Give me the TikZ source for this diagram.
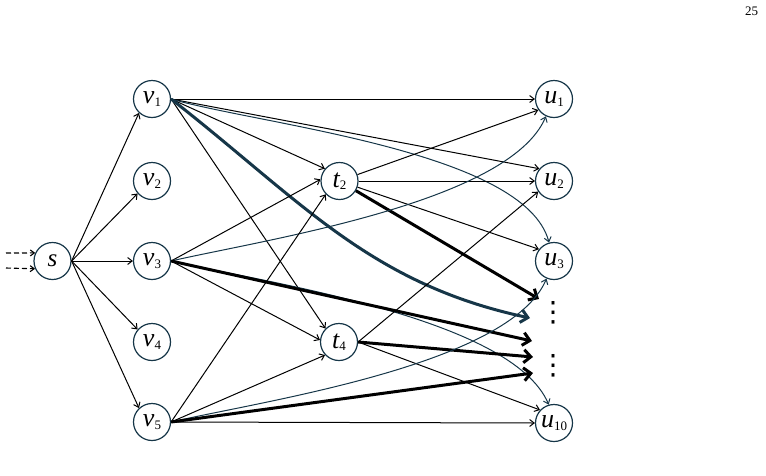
\documentclass[tikz,border=0pt]{standalone}
\usepackage{fontspec}
\setmainfont{Liberation Serif}
\newfontfamily\dejavu{DejaVu Sans}
\usetikzlibrary{arrows.meta}
\definecolor{navy}{RGB}{22,54,72}
\newcommand\lab[2]{{\fontsize{26}{26}\selectfont\itshape #1}\raisebox{-2.5pt}{\fontsize{13}{13}\selectfont #2}}
\begin{document}
\begin{tikzpicture}[x=1pt,y=1pt,
  nd/.style={circle,draw=navy,line width=1.2pt,minimum size=37pt,inner sep=0pt},
  ar/.style={line width=1pt,-{Straight Barb[length=4.5pt,width=7pt]}},
  arb/.style={ar,draw=navy},
  thk/.style={line width=3pt,-{Straight Barb[length=7pt,width=13pt]}},
  thkb/.style={thk,draw=navy},
  dsh/.style={line width=1.1pt,dash pattern=on 5pt off 3pt,-{Straight Barb[length=4pt,width=6pt]}},
  dotsnode/.style={inner sep=0pt,font=\dejavu\fontsize{28}{28}\selectfont}
]
\useasboundingbox (0,0) rectangle (766,-475);
% nodes
\node[nd] (s)  at (52.5,-261) {{\fontsize{25}{25}\selectfont\itshape s}};
\node[nd] (v1) at (152,-99)  {\lab{v}{1}};
\node[nd] (v2) at (152,-181) {\lab{v}{2}};
\node[nd] (v3) at (152,-261) {\lab{v}{3}};
\node[nd] (v4) at (152,-342) {\lab{v}{4}};
\node[nd] (v5) at (152,-422) {\lab{v}{5}};
\node[nd] (t2) at (339.5,-181) {\lab{t}{2}};
\node[nd] (t4) at (339,-342) {\lab{t}{4}};
\node[nd] (u1) at (554,-99)  {\lab{u}{1}};
\node[nd] (u2) at (554,-181) {\lab{u}{2}};
\node[nd] (u3) at (554,-261) {\lab{u}{3}};
\node[nd] (u10) at (554,-423) {\lab{u}{10}};
\node[dotsnode] (d1) at (553,-313) {⋮};
\node[dotsnode] (d2) at (553,-366) {⋮};
\node (pg) at (751.5,-11.5) {\fontsize{13}{13}\selectfont 25};
% free ends
\coordinate (da1) at (6,-253);
\coordinate (da2) at (6,-268);
\coordinate (a1) at (539,-299);
\coordinate (a2) at (530,-318);
\coordinate (a3) at (532,-341);
\coordinate (a4) at (533,-357);
\coordinate (a5) at (533,-373);
% dashed inputs
\draw[dsh] (da1) -- (s.155);
\draw[dsh] (da2) -- (s.204);
% s edges
\draw[ar] (s.east) -- (v1.227);
\draw[ar] (s.east) -- (v2.221);
\draw[ar] (s.east) -- (v3.west);
\draw[ar] (s.east) -- (v4.139);
\draw[ar] (s.east) -- (v5.133);
% v1 edges
\draw[ar] (v1.east) -- (u1.west);
\draw[ar] (v1.east) -- (u2.140);
\draw[ar] (v1.east) -- (t2.140);
\draw[ar] (v1.east) -- (t4.135);
\draw[arb] (v1.east) to[out=-16,in=105,looseness=0.6] (u3.105);
\draw[thkb] (v1.east) to[out=-38,in=168] (a2);
% t2 edges
\draw[ar] (t2) -- (u1.215);
\draw[ar] (t2) -- (u2.west);
\draw[ar] (t2) -- (u3.142);
\draw[thk] (t2) -- (a1);
% v3 edges
\draw[ar] (v3.east) -- (t2.175);
\draw[ar] (v3.east) -- (t4.174);
\draw[arb] (v3.east) to[out=13,in=-113,looseness=0.6] (u1.245);
\draw[arb] (v3.east) to[out=-13,in=113,looseness=0.6] (u10.106);
\draw[thk] (v3.east) -- (a3);
% t4 edges
\draw[ar] (t4.east) -- (u2.214);
\draw[ar] (t4.east) -- (u10.137);
\draw[thk] (t4.east) -- (a4);
% v5 edges
\draw[ar] (v5.east) -- (t2.224);
\draw[ar] (v5.east) -- (t4.223);
\draw[ar] (v5.east) -- (u10.west);
\draw[arb] (v5.east) to[out=13,in=-113,looseness=0.6] (u3.247);
\draw[thk] (v5.east) -- (a5);
\end{tikzpicture}
\end{document}
